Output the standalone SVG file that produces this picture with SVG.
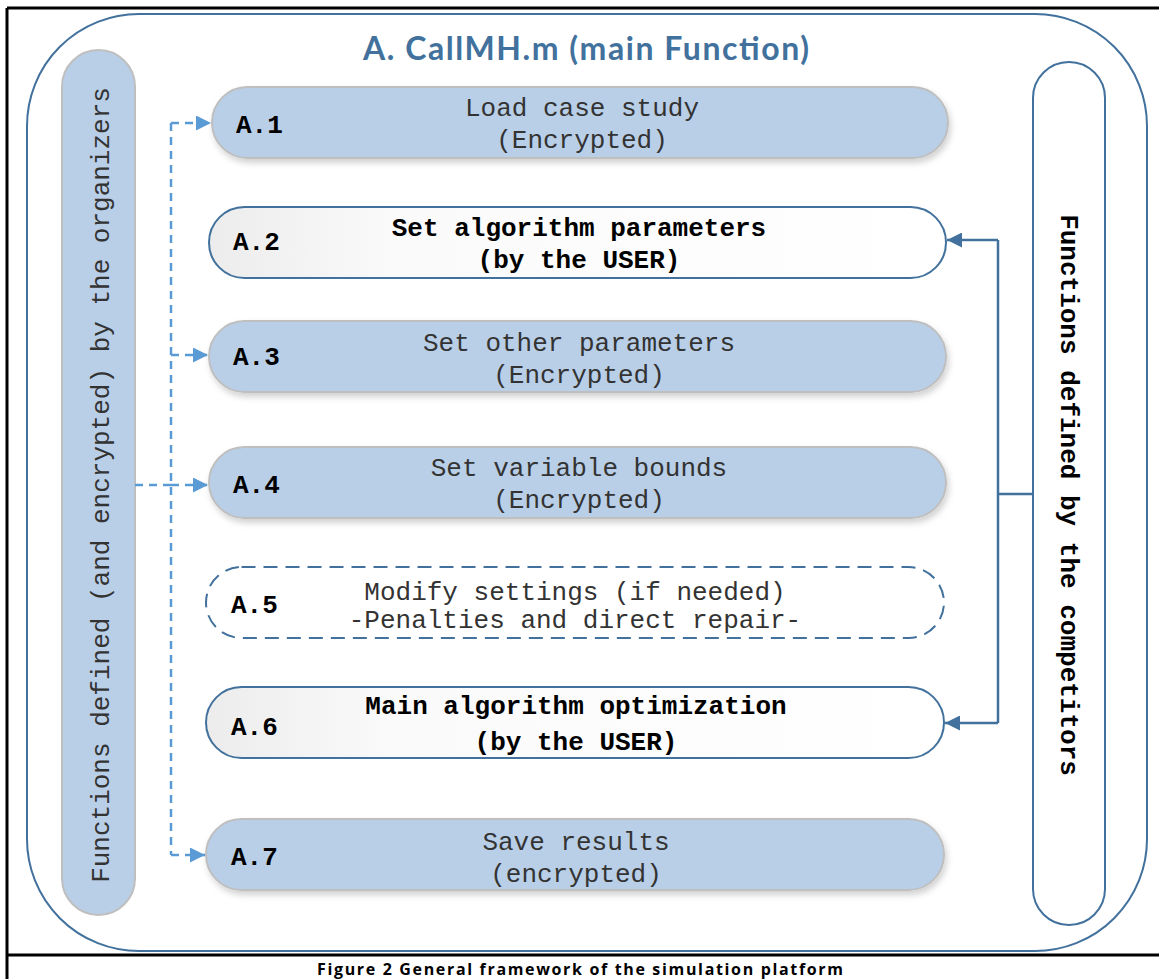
<svg xmlns="http://www.w3.org/2000/svg" width="1159" height="979" viewBox="0 0 1159 979">
<defs>
<style>
.t{font-family:"Liberation Mono","Courier New",monospace;font-size:26px;fill:#333;text-anchor:middle}
.b{font-weight:bold;fill:#000}
.lbl{font-family:"Liberation Mono","Courier New",monospace;font-size:26px;font-weight:bold;fill:#000}
.blue{fill:#B9CFE8;stroke:#BFBFBF;stroke-width:2}
.white{fill:url(#wg);stroke:#41719C;stroke-width:2}
.dash{fill:#fff;stroke:#41719C;stroke-width:2;stroke-dasharray:14 8}
.lc{stroke:#5B9BD5;stroke-width:2.5;stroke-dasharray:8 6;fill:none}
.rc{stroke:#41719C;stroke-width:2.5;fill:none}
</style>
<linearGradient id="wg" x1="0" y1="0" x2="1" y2="0">
<stop offset="0" stop-color="#ECECEC"/>
<stop offset="0.25" stop-color="#FAFAFA"/>
<stop offset="1" stop-color="#FFFFFF"/>
</linearGradient>
<filter id="sh" x="-5%" y="-20%" width="110%" height="150%">
<feDropShadow dx="2" dy="4" stdDeviation="3" flood-color="#000" flood-opacity="0.18"/>
</filter>
<marker id="al" viewBox="0 0 10 10" refX="10" refY="5" markerWidth="6" markerHeight="6" markerUnits="strokeWidth" orient="auto">
<path d="M0,0 L10,5 L0,10 z" fill="#5B9BD5"/>
</marker>
<marker id="ar" viewBox="0 0 10 10" refX="10" refY="5" markerWidth="6" markerHeight="6" markerUnits="strokeWidth" orient="auto">
<path d="M0,0 L10,5 L0,10 z" fill="#41719C"/>
</marker>
</defs>
<rect width="1159" height="979" fill="#fff"/>
<g id="frame" stroke="#000" stroke-width="3" fill="none">
<line x1="7" y1="8" x2="1159" y2="8"/>
<line x1="7" y1="8" x2="7" y2="979"/>
<line x1="7" y1="955" x2="1159" y2="955"/>
</g>
<g id="main">
<rect x="27" y="14" width="1120" height="937" rx="112" ry="112" fill="none" stroke="#41719C" stroke-width="2"/>
<text x="586" y="60" font-family="Lato,'Open Sans',sans-serif" font-weight="bold" font-size="32" fill="#41719C" text-anchor="middle" textLength="446">A. CallMH.m (main Function)</text>
</g>
<g id="organizers">
<rect x="62" y="50" width="73" height="865" rx="36.5" fill="#B9CFE8" stroke="#BFBFBF" stroke-width="2"/>
<text class="t" transform="translate(109,485) rotate(-90)">Functions defined (and encrypted) by the organizers</text>
</g>
<g id="competitors">
<rect x="1033" y="62" width="72" height="863" rx="36" fill="none" stroke="#41719C" stroke-width="2"/>
<text class="t b" transform="translate(1061,495) rotate(90)">Functions defined by the competitors</text>
</g>
<g id="connectors">
<path class="lc" d="M171,123 V855"/>
<path class="lc" d="M135,485 H171"/>
<path class="lc" d="M171,123 H211" marker-end="url(#al)"/>
<path class="lc" d="M171,355 H208" marker-end="url(#al)"/>
<path class="lc" d="M171,485 H208" marker-end="url(#al)"/>
<path class="lc" d="M171,855 H205" marker-end="url(#al)"/>
<path class="rc" d="M998,240 V723"/>
<path class="rc" d="M998,494 H1033"/>
<path class="rc" d="M998,240 H947" marker-end="url(#ar)"/>
<path class="rc" d="M998,723 H945" marker-end="url(#ar)"/>
</g>
<g id="A1">
<rect class="blue" x="212" y="87" width="736" height="71" rx="35.5" filter="url(#sh)"/>
<text class="lbl" x="236" y="133">A.1</text>
<text class="t" x="582" y="116">Load case study</text>
<text class="t" x="582" y="148">(Encrypted)</text>
</g>
<g id="A2">
<rect class="white" x="209" y="207" width="737" height="71" rx="35.5"/>
<text class="lbl" x="233" y="250">A.2</text>
<text class="t b" x="579" y="236">Set algorithm parameters</text>
<text class="t b" x="579" y="268">(by the USER)</text>
</g>
<g id="A3">
<rect class="blue" x="209" y="321" width="737" height="71" rx="35.5" filter="url(#sh)"/>
<text class="lbl" x="233" y="365">A.3</text>
<text class="t" x="579" y="351">Set other parameters</text>
<text class="t" x="579" y="383">(Encrypted)</text>
</g>
<g id="A4">
<rect class="blue" x="209" y="447" width="737" height="71" rx="35.5" filter="url(#sh)"/>
<text class="lbl" x="233" y="493">A.4</text>
<text class="t" x="579" y="476">Set variable bounds</text>
<text class="t" x="579" y="508">(Encrypted)</text>
</g>
<g id="A5">
<rect class="dash" x="206" y="567" width="738" height="71" rx="35.5"/>
<text class="lbl" x="231" y="613">A.5</text>
<text class="t" x="575" y="600">Modify settings (if needed)</text>
<text class="t" x="575" y="628">-Penalties and direct repair-</text>
</g>
<g id="A6">
<rect class="white" x="206" y="687" width="738" height="71" rx="35.5"/>
<text class="lbl" x="231" y="735">A.6</text>
<text class="t b" x="576" y="714">Main algorithm optimization</text>
<text class="t b" x="576" y="750">(by the USER)</text>
</g>
<g id="A7">
<rect class="blue" x="206" y="819" width="738" height="71" rx="35.5" filter="url(#sh)"/>
<text class="lbl" x="231" y="865">A.7</text>
<text class="t" x="576" y="850">Save results</text>
<text class="t" x="576" y="882">(encrypted)</text>
</g>
<g id="caption">
<text x="580" y="975" font-family="'Open Sans',Lato,sans-serif" font-weight="bold" font-size="16" fill="#000" text-anchor="middle" textLength="526">Figure 2 General framework of the simulation platform</text>
</g>
</svg>
